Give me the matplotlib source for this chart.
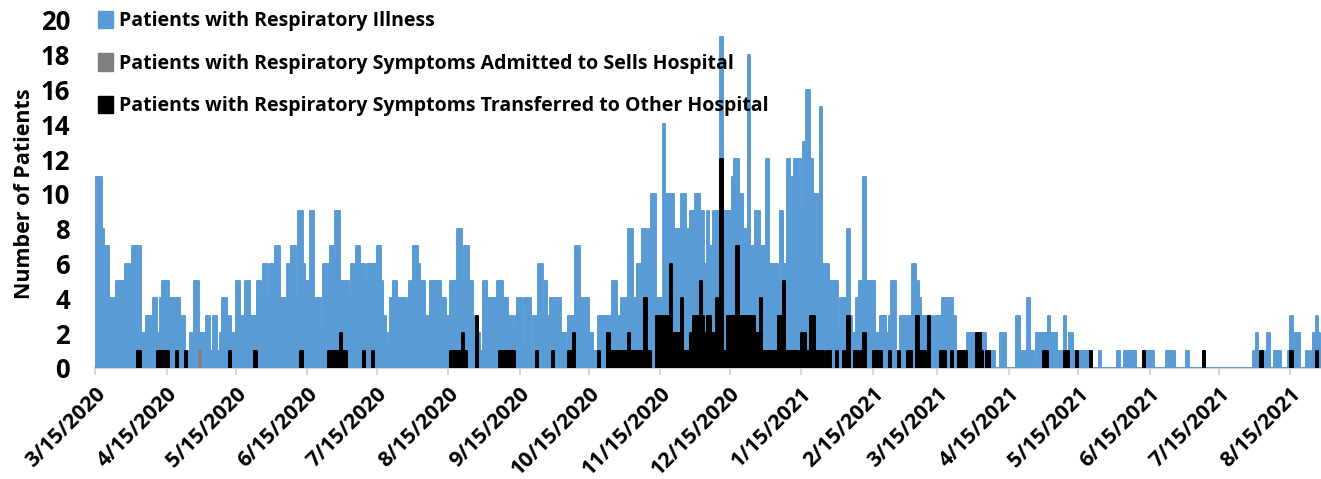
import matplotlib
matplotlib.use("Agg")
import matplotlib.pyplot as plt
from matplotlib.patches import Patch
import pandas as pd

# daily counts starting 3/15/2020
illness = [
    11, 11, 11, 8, 7, 7, 4, 4, 4, 5, 5, 5, 5, 6, 6, 6, 7, 7, 7, 7, 2, 2, 3, 3, 3, 4, 4, 2, 4, 5,
    5, 5, 4, 4, 4, 4, 4, 3, 3, 1, 1, 2, 2, 5,
    5, 2, 2, 2, 3, 3, 1, 3, 3, 1, 2, 4, 4, 3, 3, 2, 2, 5, 5, 3, 3, 5, 5, 3, 3, 3, 5, 5, 4, 6,
    6, 4, 6, 6, 7, 7, 4, 4, 4, 6, 6, 7, 7,
    4, 9, 9, 6, 5, 5, 9, 9, 4, 4,
    4, 2, 6, 6, 6, 7, 7, 9, 9, 5, 5, 5, 5, 4, 6, 6, 7, 7, 6, 6, 5, 6, 6, 6, 6, 7, 7, 5, 3, 2,
    1, 4, 5, 5, 4, 4,
    4, 4, 3, 5, 5, 7, 7, 6, 5, 5, 3, 3, 5, 5, 5, 5, 5, 4, 4, 3, 3, 5, 5, 5, 8, 8, 5, 7, 7, 5,
    5, 3, 3, 2, 1, 5, 5, 4, 4, 4, 4, 5, 5, 5,
    4, 4, 3, 3, 2, 3, 4, 4, 1, 4, 4, 4, 1, 3, 3, 6, 6, 5, 5, 3, 4, 4, 4, 4, 4, 2, 2, 1, 3, 3,
    3, 7, 7, 4, 4, 4, 4, 2, 2, 1, 1, 3, 3, 3,
    3, 3, 3, 5, 5, 3, 3, 4, 4, 4, 8, 8, 4, 4, 6, 6, 8, 8, 6, 8, 10, 10, 4, 4, 4, 14, 10, 10, 10, 10,
    8, 8, 8, 10, 10, 8, 8, 9, 9, 10, 10, 9, 9, 6,
    9, 7, 7, 9, 9, 9, 19, 9, 9, 9, 9, 11, 12, 12, 10, 10, 8, 8, 18, 7, 7, 9, 9, 7, 7,
    7, 12, 6, 6, 6, 6, 5, 9, 6, 6, 12, 11, 11, 12, 12, 12, 9, 13, 16,
    16, 12, 10, 10, 10, 15, 6, 6, 6, 5, 5, 5, 5, 2, 4, 4, 4, 8, 3, 2, 2, 4, 5, 5, 11, 5, 5, 5, 5, 2,
    2, 3, 3, 3, 2, 3, 5, 5, 1, 1, 3, 3, 3, 3,
    3, 6, 6, 5, 4, 3, 3, 3, 3, 3, 1, 3, 3, 3, 4, 4, 4, 4, 4, 3, 1, 1, 1, 1, 1, 2, 2, 2, 2, 2,
    2, 2, 2, 1, 1, 1, 1, 0, 0, 2, 2, 2, 0, 0,
    0, 0, 3, 3, 1, 1, 1, 4, 1, 1, 0, 2, 2, 2, 2, 2, 3, 2, 2, 2, 1, 1, 1, 3, 1, 2, 2, 1, 1, 1,
    1, 1, 1, 1, 1, 0, 0, 0, 1, 0,
    0, 0, 0, 0, 0, 0, 1, 0, 0, 1, 1, 1, 1, 1, 0, 0, 0, 1, 1, 1, 1, 1, 0, 0, 0, 0, 0, 1, 1, 1,
    1, 0, 0, 0, 0, 0, 1, 0, 0, 0, 0, 0, 0, 1, 0, 0,
    0, 0, 0, 0, 0, 0, 0, 0, 0, 0, 0, 0, 0, 0, 0, 0, 0, 0,
    0, 1, 2, 1, 1, 0, 1, 2, 0, 0, 1, 1, 1, 0, 0, 0, 1, 3, 1, 2, 2, 0, 0, 0, 1, 0, 1, 2, 3, 2, 1,
]

# day offsets (from 3/15/2020) with patients admitted to Sells Hospital
admitted_days = [45]
admitted_count = [1]

# day offsets with patients transferred to another hospital
transfer_days = [
    18, 19, 27, 28, 29, 30, 31, 35, 39, 58, 69, 89,
    101, 102, 103, 104, 105, 106, 107, 108, 116, 120,
    154, 155, 156, 157, 158, 159, 160, 165,
    175, 176, 177, 178, 179, 180, 181, 191, 198, 205, 206, 207, 218,
    222, 223, 224, 225, 226, 227, 228, 229, 230, 231, 232, 233, 234, 235, 236, 237, 238, 239, 240,
    243, 244, 245, 246, 247, 248, 249, 250, 251, 252, 253, 254, 255, 256, 257, 258,
    259, 260, 261, 262, 263, 264, 265, 266, 267, 268, 269, 270, 271, 272, 273,
    274, 275, 276, 277, 278, 279, 280, 281, 282, 283, 284, 285, 286, 287, 288, 289,
    290, 291, 292, 293, 294, 295, 296, 297, 298, 299, 300, 301, 302, 303, 304,
    306, 307, 308, 309, 310, 311, 312, 313, 314, 315, 317, 318, 321, 324, 326,
    329, 330, 332, 333, 337, 338, 339, 340, 344, 348, 352, 353, 356, 357, 358, 359, 361,
    366, 367, 368, 371, 374, 375, 376, 377, 382, 383, 384, 386, 387,
    411, 412, 420, 421, 425, 431, 454, 480, 505, 518, 529,
]
transfer_count = [
    1, 1, 1, 1, 1, 1, 1, 1, 1, 1, 1, 1,
    1, 1, 1, 1, 1, 2, 1, 1, 1, 1,
    1, 1, 1, 1, 1, 2, 1, 3,
    1, 1, 1, 1, 1, 1, 1, 1, 1, 1, 1, 2, 1,
    2, 1, 1, 1, 1, 1, 1, 1, 1, 2, 1, 1, 1, 1, 1, 1, 4, 1, 1,
    3, 3, 3, 3, 3, 3, 6, 2, 2, 2, 2, 4, 1, 1, 1, 2,
    3, 3, 3, 5, 3, 2, 3, 3, 2, 2, 4, 3, 12, 1, 1,
    3, 3, 3, 3, 7, 3, 3, 3, 3, 3, 3, 3, 2, 2, 4, 1,
    1, 1, 1, 1, 1, 1, 3, 3, 5, 1, 1, 1, 1, 1, 1,
    2, 2, 1, 1, 3, 3, 1, 1, 1, 1, 1, 1, 1, 1, 3,
    1, 1, 1, 2, 1, 1, 1, 1, 1, 1, 1, 1, 3, 1, 1, 1, 3,
    1, 1, 1, 1, 1, 1, 1, 1, 2, 2, 1, 1, 1,
    1, 1, 1, 1, 1, 1, 1, 1, 1, 1, 1,
]

labels = ["Patients with Respiratory Illness",
          "Patients with Respiratory Symptoms Admitted to Sells Hospital",
          "Patients with Respiratory Symptoms Transferred to Other Hospital"]
colors = ["#5B9BD5", "#7F7F7F", "#000000"]

plt.rcParams['font.family'] = ['Open Sans', 'DejaVu Sans']
plt.rcParams['font.weight'] = 'bold'

start = pd.Timestamp("2020-03-15")
dates = pd.date_range(start, periods=len(illness), freq="D")
adm_dates = start + pd.to_timedelta(admitted_days, unit="D")
tr_dates = start + pd.to_timedelta(transfer_days, unit="D")

fig = plt.figure(figsize=(13.21, 4.79), dpi=100)
ax = fig.add_axes([95 / 1321, 1 - 368 / 479, 1 - 95 / 1321, 348 / 479])

kw = dict(width=1.0, align="edge", linewidth=1.4, joinstyle="round")
ax.bar(dates, illness, color=colors[0], edgecolor=colors[0], zorder=2, **kw)
ax.bar(adm_dates, admitted_count, color=colors[1], edgecolor=colors[1], zorder=3, **kw)
ax.bar(tr_dates, transfer_count, color=colors[2], edgecolor=colors[2], zorder=4, **kw)

ax.set_ylim(0, 20)
ax.set_yticks(range(0, 21, 2))
ax.set_xlim(start, start + pd.Timedelta(days=531.3))

ticks = pd.date_range("2020-03-01", "2021-08-01", freq="MS") + pd.Timedelta(days=14)
ax.set_xticks(ticks)
ax.set_xticklabels([f"{d.month}/{d.day}/{d.year}" for d in ticks], rotation=45,
                   ha="right", rotation_mode="anchor", fontsize=15.5, fontweight="bold")

for s in ["top", "right", "left"]:
    ax.spines[s].set_visible(False)
ax.spines["bottom"].set_color("#D0D0D0")
ax.spines["bottom"].set_linewidth(1.5)
ax.spines["bottom"].set_zorder(1)
ax.tick_params(axis="x", length=5, width=1.2, color="#D0D0D0", pad=6)
ax.tick_params(axis="y", length=0, pad=18, labelsize=18.5)
for t in ax.get_yticklabels():
    t.set_fontweight("bold")

ax.set_ylabel("Number of Patients", fontsize=15.5, fontweight="bold", labelpad=4)

handles = [Patch(facecolor=c, edgecolor=c) for c in colors]
leg = fig.legend(handles, labels, loc="upper left", bbox_to_anchor=(90 / 1321, 0.994),
                 frameon=False, fontsize=14, handlelength=0.8, handleheight=1.0,
                 handletextpad=0.3, labelspacing=1.15, borderaxespad=0)
for t in leg.get_texts():
    t.set_fontweight("bold")

fig.savefig("out.png", dpi=100)
